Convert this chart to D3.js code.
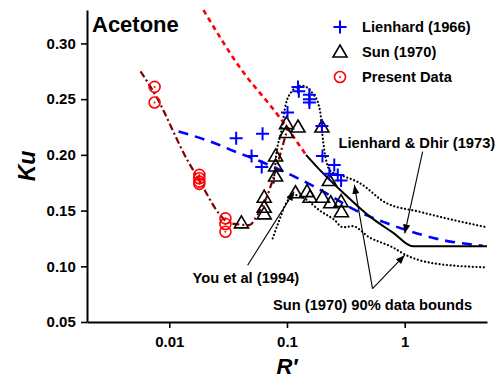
<!DOCTYPE html>
<html>
<head>
<meta charset="utf-8">
<script src="https://cdn.jsdelivr.net/npm/d3@7/dist/d3.min.js"></script>
<style>
  body { margin: 0; background: #fff; }
  text { font-family: "Liberation Sans", Arial, sans-serif; font-weight: bold; }
</style>
</head>
<body>
<div id="chart"></div>
<script>
// ---- data: [R', Ku] ----
var lienhard1966 = [
  [0.037, 0.215], [0.062, 0.219], [0.050, 0.199], [0.061, 0.189],
  [0.101, 0.238], [0.124, 0.261], [0.126, 0.257], [0.155, 0.254],
  [0.155, 0.250], [0.155, 0.247], [0.198, 0.226], [0.200, 0.199],
  [0.252, 0.191], [0.229, 0.183], [0.270, 0.182], [0.288, 0.177]
];
var sun1970 = [
  [0.041, 0.139], [0.064, 0.162], [0.064, 0.153], [0.064, 0.147],
  [0.080, 0.199], [0.080, 0.190], [0.080, 0.181], [0.099, 0.228],
  [0.099, 0.220], [0.124, 0.225], [0.198, 0.225], [0.118, 0.166],
  [0.148, 0.167], [0.157, 0.162], [0.200, 0.162], [0.235, 0.157],
  [0.288, 0.158], [0.290, 0.149], [0.229, 0.177]
];
var presentData = [
  [0.0075, 0.261], [0.0075, 0.247], [0.018, 0.182], [0.018, 0.179],
  [0.018, 0.176], [0.018, 0.174], [0.030, 0.143], [0.030, 0.138],
  [0.030, 0.131]
];

// fitted / correlation curves
var presentFit = [
  [0.0057, 0.275], [0.0075, 0.255], [0.0143, 0.195], [0.018, 0.177],
  [0.0266, 0.147], [0.032, 0.139], [0.048, 0.137], [0.056, 0.146],
  [0.066, 0.160], [0.078, 0.182], [0.090, 0.205], [0.102, 0.225]
];
var dhirExtrap = [[0.0195, 0.330], [0.0394, 0.279], [0.086, 0.234], [0.145, 0.200]];
var dhir1973 = [
  [0.145, 0.200], [0.188, 0.187], [0.3, 0.166], [0.5, 0.145], [0.8, 0.130],
  [1.17, 0.118], [5, 0.118]
];
var blueDashed = [
  [0.012, 0.221], [0.025, 0.210], [0.036, 0.203], [0.051, 0.197], [0.081, 0.188],
  [0.108, 0.182], [0.16, 0.173], [0.229, 0.164], [0.34, 0.153], [0.69, 0.139],
  [1.0, 0.133], [2.1, 0.1235], [4.6, 0.1185]
];
var you1994 = [
  [0.077, 0.175], [0.081, 0.200], [0.089, 0.220], [0.098, 0.246], [0.108, 0.256],
  [0.123, 0.261], [0.136, 0.262], [0.154, 0.259], [0.168, 0.254], [0.183, 0.247],
  [0.194, 0.234], [0.200, 0.218], [0.207, 0.205], [0.220, 0.191], [0.237, 0.185],
  [0.30, 0.181], [0.41, 0.175], [0.69, 0.157], [1.33, 0.149], [2.6, 0.1415], [5, 0.135]
];
var lowerBound = [
  [0.0755, 0.125], [0.085, 0.140], [0.100, 0.158], [0.115, 0.164], [0.14, 0.161],
  [0.19, 0.150], [0.25, 0.142], [0.30, 0.135], [0.36, 0.136], [0.5, 0.126],
  [0.79, 0.117], [1.03, 0.110], [1.8, 0.1025], [5, 0.099]
];

var xMajor = [0.01, 0.1, 1];
var yMajor = [0.05, 0.10, 0.15, 0.20, 0.25, 0.30];
var yMinor = [0.075, 0.125, 0.175, 0.225, 0.275, 0.325];

var legendNames = ["Lienhard (1966)", "Sun (1970)", "Present Data"];

var w = 503, h = 381;
var margin = {left: 87, right: 16, top: 10, bottom: 59};

var svg = d3.select("#chart").append("svg")
    .attr("width", w).attr("height", h);

var defs = svg.append("defs");
defs.append("marker")
    .attr("id", "arrow")
    .attr("viewBox", "0 0 10 10")
    .attr("refX", 10).attr("refY", 5)
    .attr("markerWidth", 9).attr("markerHeight", 9)
    .attr("markerUnits", "userSpaceOnUse")
    .attr("orient", "auto")
  .append("path")
    .attr("d", "M0,1 L10,5 L0,9 z")
    .attr("fill", "#000");

var xscale = d3.scaleLog()
    .domain([0.002, 5])
    .range([margin.left, w - margin.right]);
var yscale = d3.scaleLinear()
    .domain([0.05, 0.33])
    .range([h - margin.bottom, margin.top]);

// minor x ticks: 2..9 in each decade
var xMinor = [];
[0.001, 0.01, 0.1, 1].forEach(function(dec) {
    for (var k = 2; k <= 9; k++) {
        var v = dec * k;
        if (v >= 0.002 && v <= 5.0001) xMinor.push(v);
    }
});

var gx = svg.append("g").attr("transform", "translate(0," + (h - margin.bottom) + ")");
gx.call(d3.axisBottom(xscale).tickValues(xMinor).tickSize(4).tickSizeOuter(0).tickFormat(""));
gx.call(d3.axisBottom(xscale).tickValues(xMajor).tickSize(6).tickSizeOuter(0)
    .tickFormat(function(d) { return d >= 1 ? "1" : String(d); }));

var gy = svg.append("g").attr("transform", "translate(" + margin.left + ",0)");
gy.call(d3.axisLeft(yscale).tickValues(yMinor).tickSize(4).tickSizeOuter(0).tickFormat(""));
gy.call(d3.axisLeft(yscale).tickValues(yMajor).tickSize(6).tickSizeOuter(0)
    .tickFormat(d3.format(".2f")));

svg.selectAll(".domain").attr("stroke", "#000").attr("stroke-width", 2);
svg.selectAll(".tick line").attr("stroke", "#000").attr("stroke-width", 1.6);
svg.selectAll(".tick text")
    .attr("fill", "#000")
    .style("font-size", "15px")
    .style("font-family", "'Liberation Sans', Arial, sans-serif")
    .style("font-weight", "bold");
gx.selectAll(".tick text").attr("dy", "1.05em");
gy.selectAll(".tick text").attr("dx", "-0.15em");

// axis titles
svg.append("text")
    .attr("x", xscale(0.1)).attr("y", 374)
    .attr("text-anchor", "middle")
    .style("font-size", "22px").style("font-style", "italic")
    .text("R\u2032");
svg.append("text")
    .attr("transform", "translate(35," + yscale(0.19) + ") rotate(-90)")
    .attr("text-anchor", "middle")
    .style("font-size", "23px").style("font-style", "italic")
    .text("Ku");

svg.append("text")
    .attr("x", 92).attr("y", 32)
    .style("font-size", "22px")
    .text("Acetone");

// ---- curves ----
var line = d3.line()
    .x(function(d) { return xscale(d[0]); })
    .y(function(d) { return yscale(d[1]); })
    .curve(d3.curveMonotoneX);

function drawLine(data, color, width, dash, cap) {
    svg.append("path")
        .datum(data)
        .attr("d", line)
        .attr("fill", "none")
        .attr("stroke", color)
        .attr("stroke-width", width)
        .attr("stroke-dasharray", dash)
        .attr("stroke-linecap", cap || "butt");
}

drawLine(you1994, "#000", 2.2, "0.1,3.6", "round");
drawLine(lowerBound, "#000", 2.2, "0.1,3.6", "round");
drawLine(blueDashed, "#0000ff", 2.6, "10,7");
drawLine(dhirExtrap, "#ff0000", 2.6, "5,4");
drawLine(dhir1973, "#000", 2);
drawLine(presentFit, "#7f0000", 2.2, "7,3,2,3");

// ---- markers ----
function plus(g, cx, cy) {
    g.append("path")
        .attr("d", "M" + (cx - 6.5) + "," + cy + "H" + (cx + 6.5) +
                   "M" + cx + "," + (cy - 6.5) + "V" + (cy + 6.5))
        .attr("stroke", "#0000ff").attr("stroke-width", 2).attr("fill", "none");
}
function tri(g, cx, cy) {
    g.append("path")
        .attr("d", "M" + cx + "," + (cy - 7) + "L" + (cx + 7) + "," + (cy + 5) +
                   "L" + (cx - 7) + "," + (cy + 5) + "Z")
        .attr("stroke", "#000").attr("stroke-width", 1.6).attr("fill", "none");
}
function circ(g, cx, cy) {
    g.append("circle").attr("cx", cx).attr("cy", cy).attr("r", 5.5)
        .attr("stroke", "#ff0000").attr("stroke-width", 1.6).attr("fill", "none");
    g.append("circle").attr("cx", cx).attr("cy", cy).attr("r", 1)
        .attr("fill", "#ff0000");
}

var gm = svg.append("g");
sun1970.forEach(function(d) { tri(gm, xscale(d[0]), yscale(d[1])); });
lienhard1966.forEach(function(d) { plus(gm, xscale(d[0]), yscale(d[1])); });
presentData.forEach(function(d) { circ(gm, xscale(d[0]), yscale(d[1])); });

// ---- legend ----
var lg = svg.append("g");
var drawers = [plus, tri, circ];
legendNames.forEach(function(name, i) {
    var cy = 27 + i * 25;
    drawers[i](lg, 340, cy);
    lg.append("text").attr("x", 362).attr("y", cy + 5)
        .style("font-size", "14.7px").text(name);
});

// ---- annotations ----
var arrows = [
    [[1.42, 0.2029], [1.0, 0.1295]],
    [[0.0463, 0.101], [0.115, 0.167]],
    [[0.533, 0.080], [0.373, 0.173]],
    [[0.533, 0.080], [1.0, 0.110]]
];
arrows.forEach(function(a) {
    svg.append("line")
        .attr("x1", xscale(a[0][0])).attr("y1", yscale(a[0][1]))
        .attr("x2", xscale(a[1][0])).attr("y2", yscale(a[1][1]))
        .attr("stroke", "#000").attr("stroke-width", 1.1)
        .attr("marker-end", "url(#arrow)");
});

var notes = [
    {t: "Lienhard & Dhir (1973)", x: 0.274, y: 0.2104, anchor: "start"},
    {t: "You et al (1994)", x: 0.127, y: 0.0893, anchor: "end"},
    {t: "Sun (1970) 90% data bounds", x: 0.533, y: 0.065, anchor: "middle"}
];
notes.forEach(function(n) {
    svg.append("text")
        .attr("x", xscale(n.x)).attr("y", yscale(n.y) + 5)
        .attr("text-anchor", n.anchor)
        .style("font-size", "14.7px")
        .text(n.t);
});
</script>
</body>
</html>
